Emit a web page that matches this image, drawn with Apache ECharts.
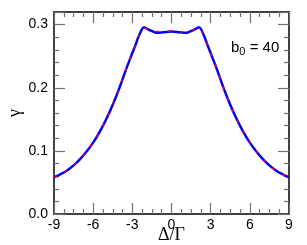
<!DOCTYPE html>
<html><head><meta charset="utf-8">
<script src="https://cdn.jsdelivr.net/npm/echarts@6/dist/echarts.min.js"></script>
<style>html,body{margin:0;padding:0;background:#fff}#c{width:307px;height:245px}</style>
</head><body><div id="c"></div>
<script>
const xValues = [-9,-8.5,-8,-7.5,-7,-6.5,-6,-5.5,-5,-4.5,-4,-3.5,-3,-2.75,-2.5,-2.1,-1.75,-1.4,-1.1,-0.6,0,0.6,1.1,1.4,1.75,2.1,2.5,2.75,3,3.5,4,4.5,5,5.5,6,6.5,7,7.5,8,8.5,9];
const blueValues = [0.058,0.063,0.069,0.077,0.087,0.099,0.113,0.130,0.150,0.173,0.199,0.228,0.255,0.268,0.282,0.296,0.292,0.289,0.287,0.288,0.289,0.288,0.287,0.289,0.292,0.296,0.282,0.268,0.255,0.228,0.199,0.173,0.150,0.130,0.113,0.099,0.087,0.077,0.069,0.063,0.058];
const redValues = [0.058,0.063,0.069,0.077,0.087,0.099,0.113,0.130,0.150,0.173,0.199,0.228,0.255,0.268,0.282,0.295,0.292,0.290,0.289,0.289,0.290,0.289,0.288,0.289,0.292,0.295,0.282,0.268,0.255,0.228,0.199,0.173,0.150,0.130,0.113,0.099,0.087,0.077,0.069,0.063,0.058];
const xTicks = [-9,-6,-3,0,3,6,9];
const yTicks = [0.0,0.1,0.2,0.3];

const chart = echarts.init(document.getElementById('c'), null, {renderer:'canvas'});
const blue = xValues.map((x,i)=>[x,blueValues[i]]);
const red = xValues.map((x,i)=>[x,redValues[i]]);
const tickCol = '#707070';
function xAx(pos, labels){
  return {type:'value', position:pos, min:-9, max:9, interval:3,
    axisLine:{show:true, onZero:false, lineStyle:{color:'#000', width:1.5}},
    axisTick:{show:true, inside:true, length:11, lineStyle:{color:tickCol, width:1.2}},
    minorTick:{show:true, splitNumber:4, length:5, lineStyle:{color:tickCol, width:1.2}},
    splitLine:{show:false},
    axisLabel:{show:labels, margin:4, color:'#000', fontFamily:'Liberation Sans', fontSize:14},
    name: labels ? 'Δ/Γ' : '', nameLocation:'middle', nameGap:12, nameMoveOverlap:false,
    nameTextStyle:{fontFamily:'Liberation Serif', fontSize:18, color:'#000', verticalAlign:'top'}
  };
}
function yAx(pos, labels){
  return {type:'value', position:pos, min:0, max:0.32, interval:0.1,
    axisLine:{show:true, onZero:false, lineStyle:{color:'#000', width:1.5}},
    axisTick:{show:true, inside:true, length:11, lineStyle:{color:tickCol, width:1.2}},
    minorTick:{show:true, splitNumber:5, length:5, lineStyle:{color:tickCol, width:1.2}},
    splitLine:{show:false},
    axisLabel:{show:labels, margin:6, color:'#000', fontFamily:'Liberation Sans', fontSize:14,
      showMaxLabel:false, formatter:v=> yTicks.some(t=>Math.abs(t-v)<1e-9) ? v.toFixed(1) : ''},
    name: labels ? 'γ' : '', nameLocation:'middle', nameGap:30, nameRotate:90, nameMoveOverlap:false,
    nameTextStyle:{fontFamily:'Liberation Serif', fontSize:18, color:'#000'}
  };
}
chart.setOption({
  animation:false,
  grid:{left:54, right:18, top:12, bottom:31, containLabel:false, outerBoundsMode:'none'},
  xAxis:[xAx('bottom',true), xAx('top',false)],
  yAxis:[yAx('left',true), yAx('right',false)],
  graphic:[{type:'text', left:231, top:40, style:{
    text:'{b|b}{s|0}{b| = 40}', rich:{
      b:{fontFamily:'Liberation Sans', fontSize:15, fill:'#000'},
      s:{fontFamily:'Liberation Sans', fontSize:11, fill:'#000', padding:[9,0,0,0]}
    }}}],
  series:[
    {type:'line', data:blue, smooth:0.35, symbol:'none', lineStyle:{color:'#0000ff', width:2.5}},
    {type:'line', data:red, smooth:0.35, symbol:'none', lineStyle:{color:'#ff0000', width:1.5, type:[3,9]}}
  ]
});
</script></body></html>
